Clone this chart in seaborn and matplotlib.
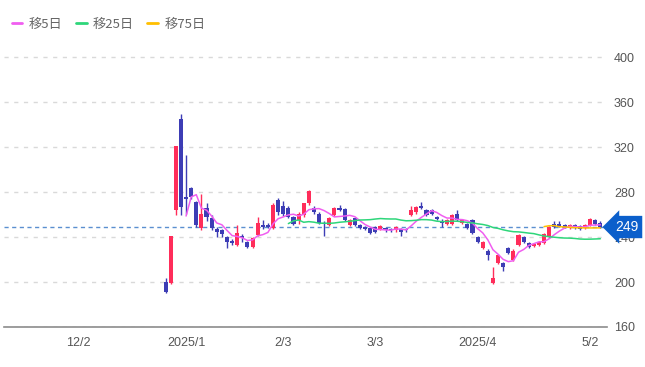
import pandas as pd
import matplotlib
matplotlib.use("Agg")
import matplotlib.pyplot as plt
import seaborn as sns

# trading calendar (Tokyo), with market holidays removed
holidays = ["2024-12-31", "2025-01-01", "2025-01-02", "2025-01-03", "2025-01-13",
            "2025-02-11", "2025-02-24", "2025-03-20", "2025-04-29",
            "2025-05-05", "2025-05-06"]
first_day = "2024-12-25"
tick_dates = ["2024-12-02", "2025-01-06", "2025-02-03", "2025-03-03", "2025-04-01", "2025-05-02"]
tick_labels = ["12/2", "2025/1", "2/3", "3/3", "2025/4", "5/2"]

# daily prices (Dec 25 .. May 8)
opens = [200, 199, 264, 345, 276, 284, 271, 248, 266, 257, 247, 246, 240, 237, 233, 241,
         236, 231, 242, 251, 251, 248, 273, 268, 266, 258, 255, 260, 270, 266, 261, 253,
         251, 260, 266, 265, 251, 257, 251, 249, 248, 249, 247, 248, 247, 246, 247, 247,
         260, 262, 268, 264, 264, 258, 254, 252, 252, 261, 253, 252, 255, 240, 230, 228,
         199, 217, 217, 230, 220, 233, 240, 235, 232, 233, 235, 240, 252, 252, 251, 248,
         251, 250, 248, 251, 255, 253]
highs = [204, 241, 321, 350, 313, 285, 272, 278, 270, 260, 249, 247, 241, 238, 251, 243,
         237, 240, 258, 255, 253, 270, 275, 272, 268, 259, 262, 270, 282, 268, 262, 254,
         258, 267, 269, 266, 256, 258, 252, 250, 249, 250, 251, 249, 248, 250, 248, 248,
         268, 268, 271, 265, 265, 259, 256, 256, 261, 264, 256, 253, 256, 241, 237, 229,
         213, 225, 218, 231, 229, 243, 241, 236, 235, 237, 244, 250, 254, 254, 252, 252,
         252, 251, 252, 257, 256, 254]
lows = [190, 198, 260, 260, 261, 274, 249, 246, 254, 246, 240, 240, 230, 233, 232, 236,
        230, 230, 241, 247, 248, 247, 260, 259, 257, 251, 252, 258, 269, 261, 252, 241,
        250, 259, 263, 254, 250, 250, 247, 246, 243, 244, 246, 245, 245, 245, 241, 245,
        259, 261, 265, 259, 260, 255, 249, 251, 251, 254, 252, 247, 243, 235, 229, 220,
        198, 216, 210, 225, 219, 232, 235, 230, 231, 232, 234, 239, 248, 249, 248, 247,
        247, 246, 247, 250, 251, 248]
closes = [191, 241, 321, 267, 274, 276, 251, 261, 258, 248, 245, 243, 236, 235, 244, 239,
          231, 239, 253, 249, 249, 269, 262, 261, 258, 252, 261, 270, 281, 262, 253, 252,
          257, 266, 264, 255, 255, 251, 248, 247, 244, 245, 250, 246, 246, 249, 245, 246,
          264, 267, 266, 260, 261, 256, 253, 255, 260, 255, 255, 248, 244, 236, 236, 224,
          204, 224, 213, 226, 228, 242, 236, 231, 234, 236, 243, 249, 249, 250, 249, 251,
          248, 247, 251, 256, 252, 249]

UP = "#ff2d5a"
DOWN = "#3d3db5"
MA_COLORS = {"移5日": "#f05ef0", "移25日": "#2ed67a", "移75日": "#ffbf00"}
MA_WINDOWS = {"移5日": 5, "移25日": 25, "移75日": 75}

cal = pd.bdate_range("2024-12-02", "2025-05-30")
cal = cal[~cal.isin(pd.to_datetime(holidays))]
pos = {d: i for i, d in enumerate(cal)}
start = pos[pd.Timestamp(first_day)]

df = pd.DataFrame({"open": opens, "high": highs, "low": lows, "close": closes})
df["x"] = range(start, start + len(df))
for name, w in MA_WINDOWS.items():
    df[name] = df["close"].rolling(w).mean()

sns.set_theme(style="white")
plt.rcParams["font.family"] = ["Liberation Sans", "Noto Sans CJK JP", "DejaVu Sans"]

fig = plt.figure(figsize=(6.45, 3.67), dpi=100)
ax = fig.add_axes([4 / 645, 1 - 327 / 367, 603 / 645, 287 / 367])

# candles
up = df["close"] >= df["open"]
colors = [UP if u else DOWN for u in up]
ax.vlines(df["x"], df["low"], df["high"], colors=colors, linewidth=1, zorder=3)
body = (df["close"] - df["open"]).abs().clip(lower=0.9)
ax.bar(df["x"], body, bottom=df[["open", "close"]].min(axis=1), width=0.8,
       color=colors, linewidth=0, zorder=4)

# moving averages
for name in MA_WINDOWS:
    sns.lineplot(x=df["x"], y=df[name], ax=ax, color=MA_COLORS[name],
                 linewidth=1.1, zorder=5, label=name)

last = closes[-1]
ax.axhline(last, color="#5b8fd0", linestyle=(0, (3, 2.5)), linewidth=1, zorder=2)

ax.set_xlim(-14.6, 103.3)
ax.set_ylim(160, 415.5)
ax.set_yticks([160, 200, 240, 280, 320, 360, 400])
ax.yaxis.tick_right()
ax.set_xticks([pos[pd.Timestamp(d)] for d in tick_dates])
ax.set_xticklabels(tick_labels)
ax.tick_params(axis="both", length=0, labelsize=9, labelcolor="#555555")
ax.tick_params(axis="y", pad=5)
ax.tick_params(axis="x", pad=7)
ax.set_xlabel("")
ax.set_ylabel("")
ax.yaxis.grid(True, color="#d9d9d9", linestyle=(0, (3, 4)), linewidth=1)
ax.xaxis.grid(False)
for s in ["top", "left", "right"]:
    ax.spines[s].set_visible(False)
ax.spines["bottom"].set_color("#8c8c8c")
ax.spines["bottom"].set_linewidth(1.2)

# last price tag
ax.text(1.013, last, f"{last}", transform=ax.get_yaxis_transform(), ha="left", va="center",
        fontsize=10, color="white", zorder=10, clip_on=False,
        bbox=dict(boxstyle="larrow,pad=0.3", fc="#0b5fcb", ec="none"))

leg = ax.legend(loc="upper left", bbox_to_anchor=(0.0, 1.0 - 6 / 367), bbox_transform=fig.transFigure,
                ncol=3, frameon=False, handlelength=0.8, handletextpad=0.5, columnspacing=1.0,
                prop={"family": ["Noto Sans CJK JP"], "size": 9.5}, borderaxespad=0.5)
for t in leg.get_texts():
    t.set_color("#666666")
for h in leg.get_lines():
    h.set_linewidth(2)

fig.savefig("out.png", dpi=100)
